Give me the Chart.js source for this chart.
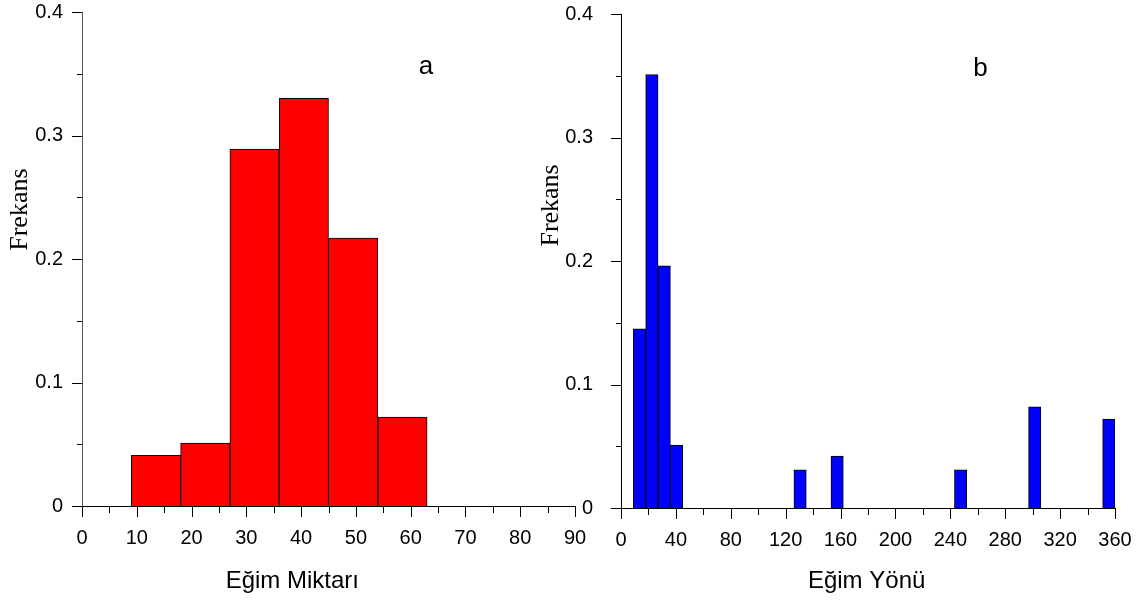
<!DOCTYPE html>
<html lang="tr">
<head>
<meta charset="UTF-8">
<title>Eğim Miktarı / Eğim Yönü</title>
<script src="https://cdn.jsdelivr.net/npm/chart.js"></script>
<style>
  body { margin: 0; background: #fff; }
  .wrap { position: relative; width: 1145px; height: 603px; }
  canvas { position: absolute; top: 0; }
  #slopeChart { left: 0; }
  #aspectChart { left: 520px; }
</style>
</head>
<body>
<div class="wrap">
  <canvas id="slopeChart" width="600" height="603"></canvas>
  <canvas id="aspectChart" width="625" height="603"></canvas>
</div>
<script>
// bins are 9 degrees wide, values are start of bin
const binWidth = 9;

// a - Eğim Miktarı
const slopeBinStart = [9, 18, 27, 36, 45, 54];
const slopeFreq = [0.041, 0.051, 0.289, 0.330, 0.217, 0.072];
const slopeTickLabels = [0, 10, 20, 30, 40, 50, 60, 70, 80, 90];

// b - Eğim Yönü
const aspectBinStart = [9, 18, 27, 36, 126, 153, 243, 297, 351];
const aspectFreq = [0.145, 0.351, 0.196, 0.051, 0.031, 0.042, 0.031, 0.082, 0.072];
const aspectTickLabels = [0, 40, 80, 120, 160, 200, 240, 280, 320, 360];

const freqTickLabels = [0, 0.1, 0.2, 0.3, 0.4];

const sans = '"Liberation Sans", Arial, sans-serif';
const serif = '"Liberation Serif", "Times New Roman", serif';
Chart.defaults.color = '#000';

// major ticks at the labels, minor ticks half way between them
const axisTicks = {
  id: 'axisTicks',
  afterDraw(chart, args, o) {
    const {ctx, scales: {x, y}} = chart;
    ctx.save();
    ctx.strokeStyle = '#000';
    ctx.lineWidth = 1;
    ctx.beginPath();
    const xv = x.ticks.map(t => t.value);
    xv.forEach((v, i) => {
      const px = Math.round(x.getPixelForValue(v)) + 0.5;
      ctx.moveTo(px, x.top); ctx.lineTo(px, x.top + o.xMajor);
      if (i < xv.length - 1) {
        const pm = Math.round(x.getPixelForValue((v + xv[i + 1]) / 2)) + 0.5;
        ctx.moveTo(pm, x.top); ctx.lineTo(pm, x.top + o.xMinor);
      }
    });
    const yv = y.ticks.map(t => t.value);
    yv.forEach((v, i) => {
      const py = Math.round(y.getPixelForValue(v)) + 0.5;
      ctx.moveTo(y.right, py); ctx.lineTo(y.right - o.yMajor, py);
      if (i < yv.length - 1) {
        const pm = Math.round(y.getPixelForValue((v + yv[i + 1]) / 2)) + 0.5;
        ctx.moveTo(y.right, pm); ctx.lineTo(y.right - o.yMinor, pm);
      }
    });
    ctx.stroke();
    ctx.restore();
  }
};

// panel letter, x title and the rotated y title
const panelText = {
  id: 'panelText',
  afterDraw(chart, args, o) {
    const {ctx, scales: {x, y}} = chart;
    ctx.save();
    ctx.fillStyle = '#000';
    ctx.textAlign = 'center';
    ctx.textBaseline = 'middle';
    ctx.font = '26px ' + sans;
    ctx.fillText(o.letter, x.getPixelForValue(o.letterX), y.getPixelForValue(o.letterY));
    ctx.font = '24px ' + sans;
    ctx.fillText(o.xTitle, x.getPixelForValue(o.xTitleAt), x.bottom - o.xTitleFromBottom);
    ctx.translate(o.titleX, y.getPixelForValue(o.titleY));
    ctx.rotate(-Math.PI / 2);
    ctx.font = '26px ' + serif;
    ctx.fillText(o.yTitle, 0, 0);
    ctx.restore();
  }
};

function makeHist(id, starts, freqs, color, cfg) {
  const ctx = document.getElementById(id).getContext('2d');
  return new Chart(ctx, {
    type: 'bar',
    data: {
      datasets: [{
        data: starts.map((s, i) => ({ x: s + binWidth / 2, y: freqs[i] })),
        backgroundColor: color,
        borderColor: '#000',
        borderWidth: 1,
        barPercentage: 1,
        categoryPercentage: 1
      }]
    },
    options: {
      responsive: false,
      animation: false,
      layout: { padding: { top: cfg.top, right: cfg.right, left: 0, bottom: 0 } },
      plugins: {
        legend: { display: false },
        tooltip: { enabled: false },
        axisTicks: { xMajor: 11, xMinor: 7, yMajor: 10, yMinor: 5 },
        panelText: cfg.text
      },
      scales: {
        x: {
          type: 'linear',
          offset: false,
          min: cfg.xLabels[0],
          max: cfg.xLabels[cfg.xLabels.length - 1],
          grid: { display: false, drawTicks: false },
          border: { color: '#000', width: 1 },
          ticks: {
            stepSize: cfg.xLabels[1] - cfg.xLabels[0],
            autoSkip: false,
            maxRotation: 0,
            padding: 20,
            font: { family: sans, size: 20 }
          },
          afterFit: s => {
            s.height = cfg.xHeight;
            s.paddingLeft = 0; s.paddingRight = 0;
          }
        },
        y: {
          min: freqTickLabels[0],
          max: freqTickLabels[freqTickLabels.length - 1],
          grid: { display: false, drawTicks: false },
          border: { color: cfg.yAxisColor, width: 1 },
          ticks: {
            stepSize: 0.1,
            autoSkip: false,
            padding: cfg.yPad,
            font: { family: sans, size: 20 },
            callback: v => String(freqTickLabels.find(l => Math.abs(l - v) < 1e-9))
          },
          afterFit: s => {
            s.width = cfg.yWidth;
            s.paddingTop = 0; s.paddingBottom = 0;
          }
        }
      }
    },
    plugins: [axisTicks, panelText]
  });
}

makeHist('slopeChart', slopeBinStart, slopeFreq, '#ff0000', {
  top: 12, right: 25, yWidth: 82, xHeight: 97, yPad: 19, yAxisColor: '#555',
  xLabels: slopeTickLabels,
  text: { letter: 'a', letterX: 62.8, letterY: 0.356, yTitle: 'Frekans', titleX: 20, titleY: 0.24,
          xTitle: 'Eğim Miktarı', xTitleAt: 38.4, xTitleFromBottom: 22 }
});

makeHist('aspectChart', aspectBinStart, aspectFreq, '#0000ff', {
  top: 14, right: 30, yWidth: 101, xHeight: 95, yPad: 28, yAxisColor: '#000',
  xLabels: aspectTickLabels,
  text: { letter: 'b', letterX: 262, letterY: 0.356, yTitle: 'Frekans', titleX: 31, titleY: 0.245,
          xTitle: 'Eğim Yönü', xTitleAt: 179, xTitleFromBottom: 22 }
});
</script>
</body>
</html>
